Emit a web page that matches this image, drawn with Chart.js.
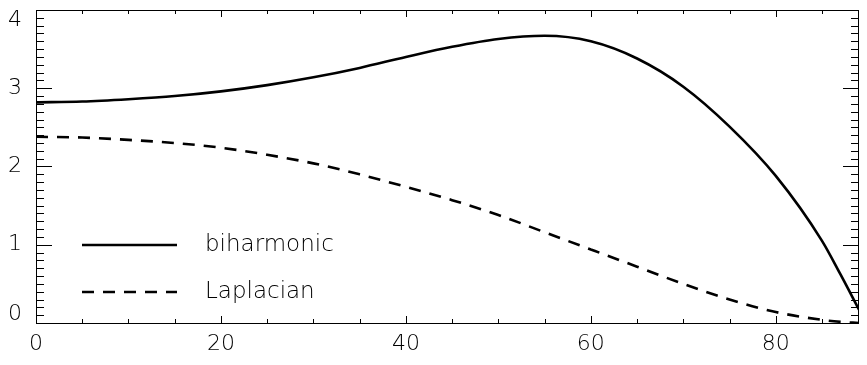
<!DOCTYPE html>
<html>
<head>
<meta charset="utf-8">
<script src="https://cdn.jsdelivr.net/npm/chart.js@4/dist/chart.umd.min.js"></script>
<style>
  html, body { margin: 0; padding: 0; background: #fff; }
  #wrap { width: 867px; height: 365px; }
</style>
</head>
<body>
<div id="wrap"><canvas id="chart" width="867" height="365"></canvas></div>
<script>
// values
var xs         = [0, 5, 10, 15, 20, 25, 30, 35, 40, 45, 50, 55, 60, 65, 70, 75, 80, 85, 87, 89];
var biharmonic = [2.82, 2.83, 2.86, 2.90, 2.96, 3.04, 3.14, 3.26, 3.40, 3.53, 3.63, 3.67, 3.60, 3.38, 3.02, 2.51, 1.88, 1.05, 0.62, 0.17];
var laplacian  = [2.38, 2.37, 2.34, 2.30, 2.24, 2.15, 2.04, 1.90, 1.74, 1.57, 1.38, 1.16, 0.94, 0.72, 0.50, 0.30, 0.14, 0.04, 0.015, 0.0];

var xTickLabels = [0, 20, 40, 60, 80];
var yTickLabels = [0, 1, 2, 3, 4];
var xMinorStep = 5;
var yMinorStep = 0.1;

var labelFont = '200 22px "DejaVu Sans"';

function pts(ys) {
  return xs.map(function (x, i) { return { x: x, y: ys[i] }; });
}

// IDL style frame: box, inward ticks on all four sides, labels, legend
var framePlugin = {
  id: 'frame',
  afterDraw: function (chart) {
    var c = chart.ctx, a = chart.chartArea;
    var sx = chart.scales.x, sy = chart.scales.y;
    c.save();
    c.strokeStyle = '#000';
    c.lineWidth = 1;
    c.strokeRect(a.left + 0.5, a.top + 0.5, a.right - a.left - 1, a.bottom - a.top);

    c.beginPath();
    var v, p, len;
    for (v = sx.min; v <= sx.max + 1e-9; v += xMinorStep) {
      p = Math.round(sx.getPixelForValue(v)) + 0.5;
      len = (Math.abs(v % 20) < 1e-6) ? 7 : 4;
      c.moveTo(p, a.bottom); c.lineTo(p, a.bottom - len);
      c.moveTo(p, a.top); c.lineTo(p, a.top + len);
    }
    for (v = 0; v <= sy.max + 1e-9; v += yMinorStep) {
      p = Math.round(sy.getPixelForValue(v)) + 0.5;
      var major = Math.abs(v - Math.round(v)) < 1e-6;
      len = major ? 16 : 8;
      c.moveTo(a.left, p); c.lineTo(a.left + len, p);
      c.moveTo(a.right, p); c.lineTo(a.right - len, p);
    }
    c.stroke();

    c.fillStyle = '#000';
    c.font = labelFont;
    c.textAlign = 'center';
    c.textBaseline = 'middle';
    xTickLabels.forEach(function (t) {
      c.fillText(String(t), sx.getPixelForValue(t), a.bottom + 21);
    });
    c.textAlign = 'right';
    yTickLabels.forEach(function (t) {
      var y = sy.getPixelForValue(t);
      y = Math.max(a.top + 10, Math.min(a.bottom - 9, y));
      c.fillText(String(t), a.left - 14, y);
    });

    // legend
    var items = [
      { label: 'biharmonic', dash: [], y: a.top + 235 },
      { label: 'Laplacian', dash: [12, 9], y: a.top + 282 }
    ];
    c.font = '200 23px "DejaVu Sans"';
    c.textAlign = 'left';
    c.lineWidth = 2.6;
    items.forEach(function (it) {
      c.setLineDash(it.dash);
      c.beginPath();
      c.moveTo(a.left + 46, it.y);
      c.lineTo(a.left + 141, it.y);
      c.stroke();
      c.setLineDash([]);
      c.fillText(it.label, a.left + 169, it.y);
    });
    c.restore();
  }
};

new Chart(document.getElementById('chart'), {
  type: 'line',
  data: {
    datasets: [{
      label: 'biharmonic',
      data: pts(biharmonic),
      borderColor: '#000',
      borderWidth: 2.6,
      pointRadius: 0,
      cubicInterpolationMode: 'monotone',
      fill: false
    }, {
      label: 'Laplacian',
      data: pts(laplacian),
      borderColor: '#000',
      borderWidth: 2.6,
      borderDash: [12, 9],
      pointRadius: 0,
      cubicInterpolationMode: 'monotone',
      fill: false
    }]
  },
  options: {
    responsive: false,
    animation: false,
    layout: { padding: { left: 36, right: 8, top: 10, bottom: 42 } },
    plugins: { legend: { display: false }, tooltip: { enabled: false } },
    scales: {
      x: { type: 'linear', min: 0, max: 89, display: false },
      y: { type: 'linear', min: 0, max: 4, display: false }
    }
  },
  plugins: [framePlugin]
});
</script>
</body>
</html>
